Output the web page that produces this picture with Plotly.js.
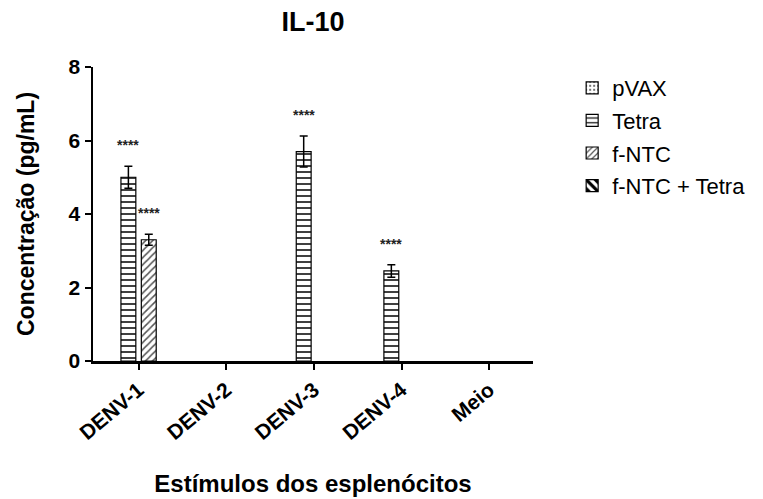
<!DOCTYPE html>
<html>
<head>
<meta charset="utf-8">
<script src="https://cdn.plot.ly/plotly-3.0.1.min.js"></script>
<style>
  html, body { margin: 0; padding: 0; background: #fff; }
  #chart { width: 763px; height: 499px; }
</style>
</head>
<body>
<div id="chart"></div>
<script>
// IL-10 production by splenocytes, per stimulus and immunisation group
const categories = ['DENV-1', 'DENV-2', 'DENV-3', 'DENV-4', 'Meio'];
const groups = ['pVAX', 'Tetra', 'f-NTC', 'f-NTC + Tetra'];

const pvaxMean      = [0, 0, 0, 0, 0];
const tetraMean     = [5.0, 0, 5.7, 2.45, 0];
const fntcMean      = [3.3, 0, 0, 0, 0];
const fntcTetraMean = [0, 0, 0, 0, 0];

const pvaxErr      = [null, null, null, null, null];
const tetraErr     = [0.3, null, 0.42, 0.17, null];
const fntcErr      = [0.15, null, null, null, null];
const fntcTetraErr = [null, null, null, null, null];

// significance marks (group index, category index, label)
const sigGroup = [1, 2, 1, 1];
const sigCat   = [0, 0, 2, 3];
const sigText  = ['****', '****', '****', '****'];

const FONT = 'Arial, "Liberation Sans", Helvetica, sans-serif';

const patterns = [
  {shape: '.', fgcolor: '#444', bgcolor: '#fff', size: 5, solidity: 0.2},
  {shape: '-', fgcolor: '#000', bgcolor: '#fff', size: 6, solidity: 0.25},
  {shape: '/', fgcolor: '#555', bgcolor: '#fff', size: 5, solidity: 0.3},
  {shape: '\\', fgcolor: '#000', bgcolor: '#fff', size: 8, solidity: 0.5}
];

const means = [pvaxMean, tetraMean, fntcMean, fntcTetraMean];
const errs  = [pvaxErr, tetraErr, fntcErr, fntcTetraErr];

const traces = groups.map((name, i) => ({
  type: 'bar',
  name: name,
  legendgroup: 'g' + i,
  showlegend: true,
  x: categories,
  // a zero mean has no bar to draw, so it is left empty rather than stroked on the baseline
  y: means[i].map(v => (v > 0 ? v : null)),
  marker: {
    color: '#fff',
    line: {color: '#000', width: 1.2},
    pattern: patterns[i]
  },
  error_y: {
    type: 'data',
    array: errs[i],
    visible: true,
    color: '#000',
    thickness: 1.5,
    width: 4
  },
  hoverinfo: 'skip'
}));

const margin = {l: 93, r: 228, t: 67, b: 138};
const xRange = [-0.52, 4.5];
const bargap = 0.07;
const plotWidth = 763 - margin.l - margin.r;
const catPx = plotWidth / (xRange[1] - xRange[0]);
const slotPx = catPx * (1 - bargap) / groups.length;

const annotations = sigText.map((t, k) => {
  const g = sigGroup[k], c = sigCat[k];
  const top = means[g][c] + (errs[g][c] || 0);
  return {
    x: categories[c], y: top, xref: 'x', yref: 'y',
    xshift: (g - (groups.length - 1) / 2) * slotPx,
    yshift: 11, yanchor: 'bottom',
    text: '<b>' + t + '</b>', showarrow: false,
    font: {family: FONT, size: 14, color: '#222'}
  };
});

const layout = {
  width: 763, height: 499,
  margin: margin,
  paper_bgcolor: '#fff', plot_bgcolor: '#fff',
  font: {family: FONT, color: '#000'},
  title: {
    text: '<b>IL-10</b>',
    font: {family: FONT, size: 27, color: '#000'},
    x: 0.5, xref: 'paper', xanchor: 'center',
    y: 0.957, yanchor: 'middle'
  },
  barmode: 'group',
  bargap: bargap,
  bargroupgap: 0.27,
  showlegend: true,
  legend: {
    x: 1.089, xanchor: 'left', y: 1.0, yanchor: 'top',
    font: {family: FONT, size: 22, color: '#000'},
    tracegroupgap: 1,
    bgcolor: 'rgba(0,0,0,0)'
  },
  xaxis: {
    range: xRange,
    showline: true, linecolor: '#000', linewidth: 2.5,
    ticks: 'outside', ticklen: 6, tickwidth: 2, tickcolor: '#000',
    tickangle: -40,
    tickfont: {family: FONT, size: 21, color: '#000', weight: 'bold'},
    showgrid: false, zeroline: false,
    title: {
      text: '<b>Estímulos dos esplenócitos</b>',
      font: {family: FONT, size: 24, color: '#000'},
      standoff: 32
    },
    fixedrange: true
  },
  yaxis: {
    range: [0, 8],
    tickvals: [0, 2, 4, 6, 8],
    showline: true, linecolor: '#000', linewidth: 2.5,
    ticks: 'outside', ticklen: 6, tickwidth: 2, tickcolor: '#000',
    tickfont: {family: FONT, size: 21, color: '#000', weight: 'bold'},
    showgrid: false, zeroline: false,
    title: {
      text: '<b>Concentração (pg/mL)</b>',
      font: {family: FONT, size: 23, color: '#000'},
      standoff: 28
    },
    fixedrange: true
  },
  annotations: annotations
};

Plotly.newPlot('chart', traces, layout, {displayModeBar: false, staticPlot: true});
</script>
</body>
</html>
